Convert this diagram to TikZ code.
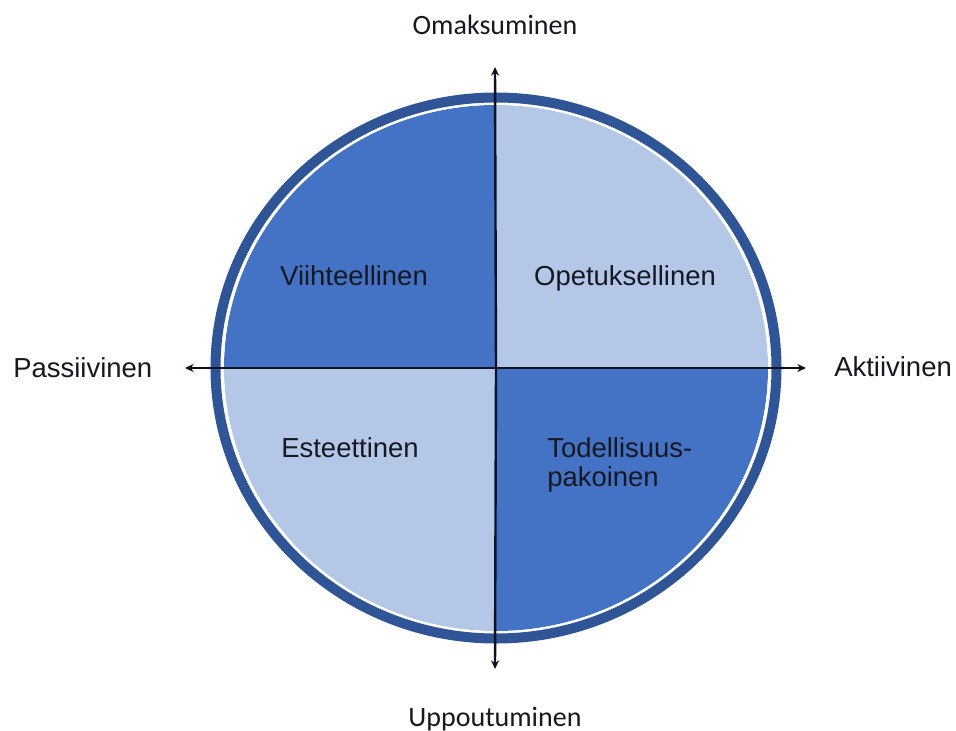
\documentclass[tikz,border=0pt]{standalone}
\usepackage{fontspec}
\setmainfont{Liberation Sans}
\newfontfamily\calibrifont{Carlito}
\usetikzlibrary{arrows.meta}

\definecolor{ringblue}{HTML}{2F5597}
\definecolor{deepquad}{HTML}{4472C4}
\definecolor{palequad}{HTML}{B4C7E7}
\definecolor{labelink}{HTML}{161822}
\definecolor{axisink}{HTML}{0E1220}

\begin{document}
\begin{tikzpicture}[
  x=0.75pt, y=-0.75pt,
  quadlabel/.style={inner sep=0pt, text=labelink, font=\fontsize{20.6}{21.8}\selectfont},
  sidelabel/.style={inner sep=0pt, text=labelink, font=\fontsize{20.6}{21.8}\selectfont},
  poleLabel/.style={inner sep=0pt, text=labelink, font=\calibrifont\fontsize{21}{22}\selectfont},
  axis/.style={axisink, line width=1.8pt, -{Stealth[length=6.5pt, width=6pt]}}
]
\useasboundingbox (0,0) rectangle (956,731);

% centre and axis ends
\coordinate (c) at (496,368);
\coordinate (ax_top) at (495,67);
\coordinate (ax_bot) at (495,669);
\coordinate (ax_left) at (185,368);
\coordinate (ax_right) at (806,368);

% quadrants
\begin{scope}
  \clip (c) ellipse [x radius=272, y radius=263];
  \fill[deepquad] (c) rectangle ++(-300,-300);
  \fill[palequad] (c) rectangle ++(300,-300);
  \fill[palequad] (c) rectangle ++(-300,300);
  \fill[deepquad] (c) rectangle ++(300,300);
\end{scope}

% outer ring
\draw[white, line width=1.9pt] (c) ellipse [x radius=273.5, y radius=264.5];
\draw[ringblue, line width=7.5pt] (c) ellipse [x radius=280.5, y radius=270.5];

% axes
\draw[axis] (c) -- (ax_top);
\draw[axis] (c) -- (ax_bot);
\draw[axis] (c) -- (ax_left);
\draw[axis] (c) -- (ax_right);

% quadrant names
\node[quadlabel, anchor=base] (viihde) at (354,285) {Viihteellinen};
\node[quadlabel, anchor=base] (opetus) at (625,285) {Opetuksellinen};
\node[quadlabel, anchor=base] (esteet) at (350,457) {Esteettinen};
\node[quadlabel, anchor=north west, align=left] (pako) at (547,437) {Todellisuus-\\pakoinen};

% axis names
\node[poleLabel, anchor=base] (omak) at (495,35) {Omaksuminen};
\node[poleLabel, anchor=base] (uppo) at (495,726) {Uppoutuminen};
\node[sidelabel, anchor=base west] (passiv) at (13,377) {Passiivinen};
\node[sidelabel, anchor=base west] (aktiiv) at (834,376) {Aktiivinen};
\end{tikzpicture}
\end{document}
